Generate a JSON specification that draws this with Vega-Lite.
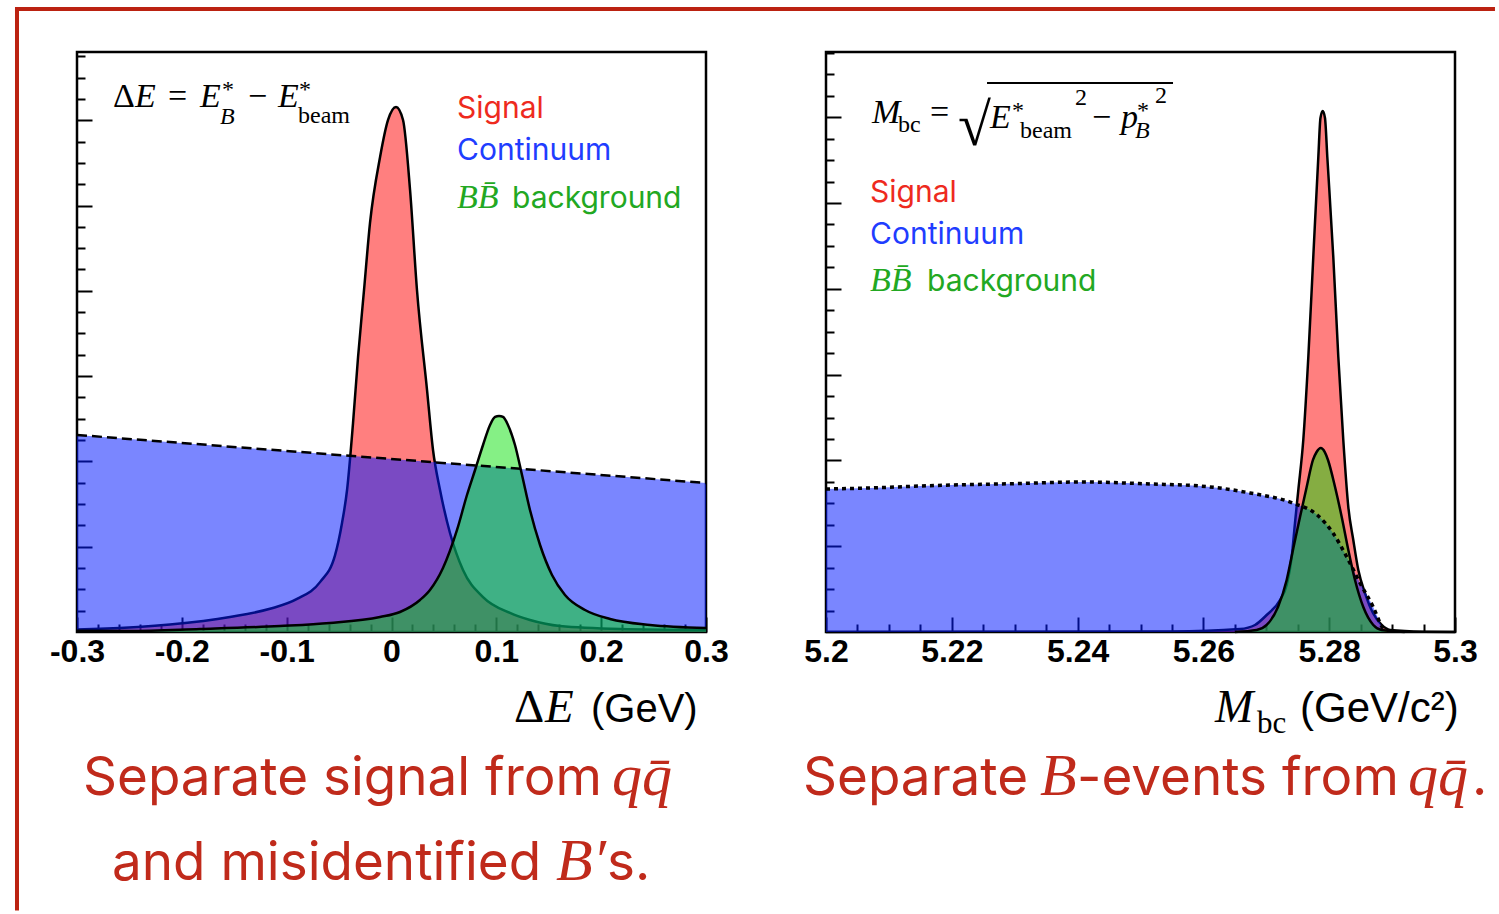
{
  "$schema": "https://vega.github.io/schema/vega-lite/v6.json",
  "background": "white",
  "padding": {"left": 11, "top": 5, "right": 0, "bottom": 0},
  "autosize": {"type": "pad"},
  "spacing": 120,
  "bounds": "flush",
  "config": {"view": {"stroke": "black", "strokeWidth": 2.5}},
  "hconcat": [
    {
      "width": 629,
      "height": 580,
      "encoding": {
        "x": {"field": "x", "type": "quantitative", "scale": {"domain": [-0.3, 0.3], "nice": false, "zero": false},
          "axis": {"orient": "bottom", "title": null, "grid": false, "domain": false,
            "values": [-0.3,-0.28,-0.26,-0.24,-0.22,-0.2,-0.18,-0.16,-0.14,-0.12,-0.1,-0.08,-0.06,-0.04,-0.02,0,0.02,0.04,0.06,0.08,0.1,0.12,0.14,0.16,0.18,0.2,0.22,0.24,0.26,0.28,0.3],
            "tickSize": {"condition": {"test": "abs(datum.value*10-round(datum.value*10))<0.001", "value": -15}, "value": -8},
            "tickWidth": 2, "tickColor": "black",
            "labelExpr": "abs(datum.value*10-round(datum.value*10))<0.001 ? (abs(datum.value)<0.001 ? '0' : (datum.value<0 ? '-'+format(-datum.value,'.1f') : format(datum.value,'.1f'))) : ''",
            "labelFont": "Liberation Sans", "labelFontWeight": "bold", "labelFontSize": 32, "labelColor": "black",
            "labelPadding": 19, "labelOverlap": false, "labelFlush": false, "labelBound": false}},
        "y": {"field": "y", "type": "quantitative", "scale": {"domain": [0, 100], "nice": false, "zero": false},
          "axis": {"orient": "left", "title": null, "grid": false, "domain": false, "labels": false,
            "values": [3.677,7.353,11.03,14.707,18.383,22.06,25.737,29.413,33.09,36.767,40.443,44.12,47.797,51.473,55.15,58.827,62.503,66.18,69.857,73.533,77.21,80.887,84.563,88.24,91.917,95.593,99.27],
            "tickSize": {"condition": {"test": "abs(datum.value/14.707-round(datum.value/14.707))<0.02", "value": -15}, "value": -8},
            "tickWidth": 2, "tickColor": "black"}}
      },
      "layer": [
        {
          "data": {"values": [
            {"x": -0.3, "y": 0.43}, {"x": -0.2781, "y": 0.55}, {"x": -0.2113, "y": 1.3}, {"x": -0.1541, "y": 2.6},
            {"x": -0.1159, "y": 4.0}, {"x": -0.0901, "y": 5.7}, {"x": -0.0682, "y": 8.6}, {"x": -0.0539, "y": 13.2},
            {"x": -0.0472, "y": 18.79}, {"x": -0.0424, "y": 24.48}, {"x": -0.0367, "y": 36.03}, {"x": -0.0319, "y": 47.41},
            {"x": -0.0262, "y": 58.97}, {"x": -0.0205, "y": 70.52}, {"x": -0.0109, "y": 81.9}, {"x": -0.0033, "y": 88.28},
            {"x": 0.0043, "y": 90.52}, {"x": 0.011, "y": 88.28}, {"x": 0.0177, "y": 76.21}, {"x": 0.0243, "y": 58.97},
            {"x": 0.0339, "y": 41.72}, {"x": 0.0396, "y": 31.38}, {"x": 0.0463, "y": 24.48}, {"x": 0.0558, "y": 17.07},
            {"x": 0.0682, "y": 10.69}, {"x": 0.0873, "y": 6.03}, {"x": 0.113, "y": 3.28}, {"x": 0.1321, "y": 2.07},
            {"x": 0.1607, "y": 1.03}, {"x": 0.218, "y": 0.52}, {"x": 0.3, "y": 0.34}
          ]},
          "layer": [
            {"mark": {"type": "area", "color": "#ff0000", "opacity": 0.5, "interpolate": "monotone"}},
            {"mark": {"type": "line", "color": "black", "strokeWidth": 2.5, "interpolate": "monotone"}}
          ]
        },
        {
          "data": {"values": [{"x": -0.3, "y": 33.97}, {"x": 0.3, "y": 25.69}]},
          "mark": {"type": "area", "color": "#041bff", "opacity": 0.53}
        },
        {
          "data": {"values": [
            {"x": -0.3, "y": 0.2}, {"x": -0.2494, "y": 0.17}, {"x": -0.1827, "y": 0.52}, {"x": -0.1064, "y": 1.03},
            {"x": -0.0587, "y": 1.55}, {"x": -0.011, "y": 2.59}, {"x": 0.0081, "y": 3.45}, {"x": 0.0272, "y": 5.52},
            {"x": 0.0367, "y": 7.24}, {"x": 0.0491, "y": 11.03}, {"x": 0.0625, "y": 17.59}, {"x": 0.072, "y": 23.62},
            {"x": 0.0797, "y": 27.93}, {"x": 0.0873, "y": 32.24}, {"x": 0.094, "y": 35.69}, {"x": 0.0988, "y": 37.07},
            {"x": 0.1026, "y": 37.24}, {"x": 0.1064, "y": 37.07}, {"x": 0.1111, "y": 35.69}, {"x": 0.1178, "y": 32.24},
            {"x": 0.1245, "y": 27.07}, {"x": 0.1321, "y": 21.03}, {"x": 0.1417, "y": 15.0}, {"x": 0.1531, "y": 9.83},
            {"x": 0.1655, "y": 6.38}, {"x": 0.1846, "y": 3.79}, {"x": 0.2085, "y": 2.24}, {"x": 0.2466, "y": 1.21},
            {"x": 0.3, "y": 0.69}
          ]},
          "layer": [
            {"mark": {"type": "area", "color": "#00e000", "opacity": 0.48, "interpolate": "monotone"}},
            {"mark": {"type": "line", "color": "black", "strokeWidth": 2.5, "interpolate": "monotone"}}
          ]
        },
        {
          "data": {"values": [{"x": -0.3, "y": 33.97}, {"x": 0.3, "y": 25.69}]},
          "mark": {"type": "line", "color": "black", "strokeWidth": 2.5, "strokeDash": [10, 5]}
        },
        {
          "data": {"values": [{"x": -0.26566, "y": 90.52, "t": "Δ"}, {"x": -0.2132, "y": 90.52, "t": "="}, {"x": -0.13688, "y": 90.52, "t": "−"}]},
          "mark": {"type": "text", "font": "Liberation Serif", "fontSize": 34, "align": "left", "baseline": "alphabetic", "color": "black"},
          "encoding": {"text": {"field": "t"}}
        },
        {
          "data": {"values": [{"x": -0.24467, "y": 90.52, "t": "E"}, {"x": -0.18267, "y": 90.52, "t": "E"}, {"x": -0.10826, "y": 90.52, "t": "E"}]},
          "mark": {"type": "text", "font": "Liberation Serif", "fontStyle": "italic", "fontSize": 34, "align": "left", "baseline": "alphabetic", "color": "black"},
          "encoding": {"text": {"field": "t"}}
        },
        {
          "data": {"values": [{"x": -0.16359, "y": 87.59, "t": "B"}]},
          "mark": {"type": "text", "font": "Liberation Serif", "fontStyle": "italic", "fontSize": 24, "align": "left", "baseline": "alphabetic", "color": "black"},
          "encoding": {"text": {"field": "t"}}
        },
        {
          "data": {"values": [{"x": -0.16168, "y": 92.24, "t": "*"}, {"x": -0.08823, "y": 92.24, "t": "*"}, {"x": -0.08919, "y": 87.76, "t": "beam"}]},
          "mark": {"type": "text", "font": "Liberation Serif", "fontSize": 24, "align": "left", "baseline": "alphabetic", "color": "black"},
          "encoding": {"text": {"field": "t"}}
        },
        {
          "data": {"values": [{"x": 0.06248, "y": 88.62, "t": "Signal"}]},
          "mark": {"type": "text", "font": "Inter", "fontSize": 30, "align": "left", "baseline": "alphabetic", "color": "#ee2a1e"},
          "encoding": {"text": {"field": "t"}}
        },
        {
          "data": {"values": [{"x": 0.06248, "y": 81.38, "t": "Continuum"}]},
          "mark": {"type": "text", "font": "Inter", "fontSize": 30, "align": "left", "baseline": "alphabetic", "color": "#1f3dff"},
          "encoding": {"text": {"field": "t"}}
        },
        {
          "data": {"values": [{"x": 0.11495, "y": 73.1, "t": "background"}]},
          "mark": {"type": "text", "font": "Inter", "fontSize": 30, "align": "left", "baseline": "alphabetic", "color": "#22a822"},
          "encoding": {"text": {"field": "t"}}
        },
        {
          "data": {"values": [{"x": 0.06248, "y": 73.1, "t": "BB̄"}]},
          "mark": {"type": "text", "font": "Liberation Serif", "fontStyle": "italic", "fontSize": 34, "align": "left", "baseline": "alphabetic", "color": "#22a822"},
          "encoding": {"text": {"field": "t"}}
        },
        {
          "data": {"values": [{"x": 0.11686, "y": -15.52, "t": "Δ"}]},
          "mark": {"type": "text", "font": "Liberation Serif", "fontSize": 47, "align": "left", "baseline": "alphabetic", "color": "black"},
          "encoding": {"text": {"field": "t"}}
        },
        {
          "data": {"values": [{"x": 0.14643, "y": -15.52, "t": "E"}]},
          "mark": {"type": "text", "font": "Liberation Serif", "fontStyle": "italic", "fontSize": 47, "align": "left", "baseline": "alphabetic", "color": "black"},
          "encoding": {"text": {"field": "t"}}
        },
        {
          "data": {"values": [{"x": 0.19031, "y": -15.52, "t": "(GeV)"}]},
          "mark": {"type": "text", "font": "Liberation Sans", "fontSize": 40, "align": "left", "baseline": "alphabetic", "color": "black"},
          "encoding": {"text": {"field": "t"}}
        },
        {
          "data": {"values": [{"x": -0.29428, "y": -28.1, "t": "Separate signal from"}, {"x": -0.26661, "y": -42.76, "t": "and misidentified"}, {"x": 0.20557, "y": -42.76, "t": "s."}]},
          "mark": {"type": "text", "font": "Inter", "fontSize": 53, "align": "left", "baseline": "alphabetic", "color": "#c02a1b"},
          "encoding": {"text": {"field": "t"}}
        },
        {
          "data": {"values": [{"x": 0.21034, "y": -28.1, "t": "qq̄"}, {"x": 0.15692, "y": -42.76, "t": "B′"}]},
          "mark": {"type": "text", "font": "Liberation Serif", "fontStyle": "italic", "fontSize": 60, "align": "left", "baseline": "alphabetic", "color": "#c02a1b"},
          "encoding": {"text": {"field": "t"}}
        },
        {
          "data": {"values": [{"x": -0.35724, "y": 107.41, "x2": -0.35724, "y2": -48.0}, {"x": -0.35915, "y": 107.41, "x2": 1.0526, "y2": 107.41}]},
          "mark": {"type": "rule", "color": "#bb2211", "strokeWidth": 4},
          "encoding": {"x2": {"field": "x2"}, "y2": {"field": "y2"}}
        }
      ]
    },
    {
      "width": 629,
      "height": 580,
      "encoding": {
        "x": {"field": "x", "type": "quantitative", "scale": {"domain": [5.2, 5.3], "nice": false, "zero": false},
          "axis": {"orient": "bottom", "title": null, "grid": false, "domain": false,
            "values": [5.2,5.205,5.21,5.215,5.22,5.225,5.23,5.235,5.24,5.245,5.25,5.255,5.26,5.265,5.27,5.275,5.28,5.285,5.29,5.295,5.3],
            "tickSize": {"condition": {"test": "abs(datum.value*50-round(datum.value*50))<0.001", "value": -15}, "value": -8},
            "tickWidth": 2, "tickColor": "black",
            "labelExpr": "abs(datum.value*50-round(datum.value*50))<0.001 ? format(datum.value,'.2~f') : ''",
            "labelFont": "Liberation Sans", "labelFontWeight": "bold", "labelFontSize": 32, "labelColor": "black",
            "labelPadding": 19, "labelOverlap": false, "labelFlush": false, "labelBound": false}},
        "y": {"field": "y", "type": "quantitative", "scale": {"domain": [0, 100], "nice": false, "zero": false},
          "axis": {"orient": "left", "title": null, "grid": false, "domain": false, "labels": false,
            "values": [3.698,7.396,11.094,14.792,18.49,22.188,25.886,29.584,33.282,36.98,40.678,44.376,48.074,51.772,55.47,59.168,62.866,66.564,70.262,73.96,77.658,81.356,85.054,88.752,92.45,96.148,99.846],
            "tickSize": {"condition": {"test": "abs(datum.value/14.792-round(datum.value/14.792))<0.02", "value": -15}, "value": -8},
            "tickWidth": 2, "tickColor": "black"}}
      },
      "layer": [
        {
          "data": {"values": [
            {"x": 5.2, "y": 0}, {"x": 5.255, "y": 0.1}, {"x": 5.26582, "y": 0.52}, {"x": 5.2682, "y": 1.21}, {"x": 5.27006, "y": 2.93},
            {"x": 5.27218, "y": 5.52}, {"x": 5.27324, "y": 8.1}, {"x": 5.27404, "y": 12.93}, {"x": 5.27456, "y": 18.79},
            {"x": 5.27509, "y": 24.48}, {"x": 5.27588, "y": 33.1}, {"x": 5.27668, "y": 47.41}, {"x": 5.27747, "y": 64.66},
            {"x": 5.27827, "y": 81.9}, {"x": 5.27861, "y": 88.62}, {"x": 5.27897, "y": 89.83}, {"x": 5.27933, "y": 88.62},
            {"x": 5.2797, "y": 81.9}, {"x": 5.28065, "y": 64.66}, {"x": 5.28145, "y": 47.41}, {"x": 5.28224, "y": 33.1},
            {"x": 5.28304, "y": 21.55}, {"x": 5.28383, "y": 15.86}, {"x": 5.28463, "y": 10.69}, {"x": 5.28569, "y": 6.72},
            {"x": 5.28696, "y": 3.28}, {"x": 5.28835, "y": 1.21}, {"x": 5.28967, "y": 0.34}, {"x": 5.295, "y": 0.05}, {"x": 5.3, "y": 0}
          ]},
          "layer": [
            {"mark": {"type": "area", "color": "#ff0000", "opacity": 0.5, "interpolate": "monotone"}},
            {"mark": {"type": "line", "color": "black", "strokeWidth": 2.5, "interpolate": "monotone"}}
          ]
        },
        {
          "data": {"values": [
            {"x": 5.2, "y": 24.66}, {"x": 5.207, "y": 24.83}, {"x": 5.215, "y": 25.17}, {"x": 5.2197, "y": 25.34},
            {"x": 5.2277, "y": 25.52}, {"x": 5.241, "y": 25.86}, {"x": 5.2515, "y": 25.52}, {"x": 5.2595, "y": 25.17},
            {"x": 5.2674, "y": 23.97}, {"x": 5.2742, "y": 22.24}, {"x": 5.2781, "y": 20.17}, {"x": 5.2806, "y": 17.07},
            {"x": 5.2828, "y": 12.93}, {"x": 5.2849, "y": 8.45}, {"x": 5.287, "y": 4.31}, {"x": 5.2884, "y": 0.86},
            {"x": 5.2889, "y": 0}
          ]},
          "layer": [
            {"mark": {"type": "area", "color": "#041bff", "opacity": 0.53, "interpolate": "monotone"}}
          ]
        },
        {
          "data": {"values": [
            {"x": 5.265, "y": 0}, {"x": 5.26847, "y": 0.34}, {"x": 5.27006, "y": 1.21}, {"x": 5.27186, "y": 4.31},
            {"x": 5.27324, "y": 8.97}, {"x": 5.27424, "y": 14.14}, {"x": 5.27536, "y": 19.83}, {"x": 5.27642, "y": 25.0},
            {"x": 5.27742, "y": 29.66}, {"x": 5.278, "y": 31.03}, {"x": 5.27865, "y": 31.72}, {"x": 5.2793, "y": 31.03},
            {"x": 5.27981, "y": 29.66}, {"x": 5.28093, "y": 25.0}, {"x": 5.28199, "y": 19.83}, {"x": 5.28304, "y": 14.14},
            {"x": 5.2841, "y": 8.97}, {"x": 5.28542, "y": 4.31}, {"x": 5.28701, "y": 1.21}, {"x": 5.28835, "y": 0.34},
            {"x": 5.292, "y": 0}
          ]},
          "layer": [
            {"mark": {"type": "area", "color": "#00e000", "opacity": 0.48, "interpolate": "monotone"}},
            {"mark": {"type": "line", "color": "black", "strokeWidth": 2.5, "interpolate": "monotone"}}
          ]
        },
        {
          "data": {"values": [
            {"x": 5.2, "y": 24.66}, {"x": 5.207, "y": 24.83}, {"x": 5.215, "y": 25.17}, {"x": 5.2197, "y": 25.34},
            {"x": 5.2277, "y": 25.52}, {"x": 5.241, "y": 25.86}, {"x": 5.2515, "y": 25.52}, {"x": 5.2595, "y": 25.17},
            {"x": 5.2674, "y": 23.97}, {"x": 5.2742, "y": 22.24}, {"x": 5.2781, "y": 20.17}, {"x": 5.2806, "y": 17.07},
            {"x": 5.2828, "y": 12.93}, {"x": 5.2849, "y": 8.45}, {"x": 5.287, "y": 4.31}, {"x": 5.2884, "y": 0.86},
            {"x": 5.2889, "y": 0}
          ]},
          "mark": {"type": "line", "color": "black", "strokeWidth": 3.5, "strokeDash": [4, 4], "interpolate": "monotone"}
        },
        {
          "data": {"values": [{"x": 5.207313, "y": 87.76, "t": "M"}, {"x": 5.226073, "y": 86.9, "t": "E"}, {"x": 5.2469, "y": 86.9, "t": "p"}]},
          "mark": {"type": "text", "font": "Liberation Serif", "fontStyle": "italic", "fontSize": 34, "align": "left", "baseline": "alphabetic", "color": "black"},
          "encoding": {"text": {"field": "t"}}
        },
        {
          "data": {"values": [{"x": 5.216534, "y": 87.76, "t": "="}, {"x": 5.242289, "y": 86.9, "t": "−"}]},
          "mark": {"type": "text", "font": "Liberation Serif", "fontSize": 34, "align": "left", "baseline": "alphabetic", "color": "black"},
          "encoding": {"text": {"field": "t"}}
        },
        {
          "data": {"values": [{"x": 5.211447, "y": 86.21, "t": "bc"}, {"x": 5.229571, "y": 88.62, "t": "*"}, {"x": 5.230843, "y": 85.17, "t": "beam"}, {"x": 5.239587, "y": 90.86, "t": "2"}, {"x": 5.249444, "y": 88.62, "t": "*"}, {"x": 5.252305, "y": 91.21, "t": "2"}]},
          "mark": {"type": "text", "font": "Liberation Serif", "fontSize": 24, "align": "left", "baseline": "alphabetic", "color": "black"},
          "encoding": {"text": {"field": "t"}}
        },
        {
          "data": {"values": [{"x": 5.249126, "y": 85.17, "t": "B"}]},
          "mark": {"type": "text", "font": "Liberation Serif", "fontStyle": "italic", "fontSize": 24, "align": "left", "baseline": "alphabetic", "color": "black"},
          "encoding": {"text": {"field": "t"}}
        },
        {
          "data": {"values": [{"x": 5.220986, "y": 83.97, "t": "√"}]},
          "mark": {"type": "text", "font": "Liberation Serif", "fontSize": 60, "align": "left", "baseline": "alphabetic", "color": "black"},
          "encoding": {"text": {"field": "t"}}
        },
        {
          "data": {"values": [{"x": 5.2256, "y": 94.66, "x2": 5.25517, "y2": 94.66}]},
          "mark": {"type": "rule", "color": "black", "strokeWidth": 2},
          "encoding": {"x2": {"field": "x2"}, "y2": {"field": "y2"}}
        },
        {
          "data": {"values": [{"x": 5.206995, "y": 74.14, "t": "Signal"}]},
          "mark": {"type": "text", "font": "Inter", "fontSize": 30, "align": "left", "baseline": "alphabetic", "color": "#ee2a1e"},
          "encoding": {"text": {"field": "t"}}
        },
        {
          "data": {"values": [{"x": 5.206995, "y": 66.9, "t": "Continuum"}]},
          "mark": {"type": "text", "font": "Inter", "fontSize": 30, "align": "left", "baseline": "alphabetic", "color": "#1f3dff"},
          "encoding": {"text": {"field": "t"}}
        },
        {
          "data": {"values": [{"x": 5.216057, "y": 58.79, "t": "background"}]},
          "mark": {"type": "text", "font": "Inter", "fontSize": 30, "align": "left", "baseline": "alphabetic", "color": "#22a822"},
          "encoding": {"text": {"field": "t"}}
        },
        {
          "data": {"values": [{"x": 5.206995, "y": 58.79, "t": "BB̄"}]},
          "mark": {"type": "text", "font": "Liberation Serif", "fontStyle": "italic", "fontSize": 34, "align": "left", "baseline": "alphabetic", "color": "#22a822"},
          "encoding": {"text": {"field": "t"}}
        },
        {
          "data": {"values": [{"x": 5.261844, "y": -15.52, "t": "M"}]},
          "mark": {"type": "text", "font": "Liberation Serif", "fontStyle": "italic", "fontSize": 46, "align": "left", "baseline": "alphabetic", "color": "black"},
          "encoding": {"text": {"field": "t"}}
        },
        {
          "data": {"values": [{"x": 5.268521, "y": -17.41, "t": "bc"}]},
          "mark": {"type": "text", "font": "Liberation Serif", "fontSize": 31, "align": "left", "baseline": "alphabetic", "color": "black"},
          "encoding": {"text": {"field": "t"}}
        },
        {
          "data": {"values": [{"x": 5.275358, "y": -15.52, "t": "(GeV/c²)"}]},
          "mark": {"type": "text", "font": "Liberation Sans", "fontSize": 42, "align": "left", "baseline": "alphabetic", "color": "black"},
          "encoding": {"text": {"field": "t"}}
        },
        {
          "data": {"values": [{"x": 5.196343, "y": -28.1, "t": "Separate"}, {"x": 5.239905, "y": -28.1, "t": "-events from"}, {"x": 5.302703, "y": -28.1, "t": "."}]},
          "mark": {"type": "text", "font": "Inter", "fontSize": 53, "align": "left", "baseline": "alphabetic", "color": "#c02a1b"},
          "encoding": {"text": {"field": "t"}}
        },
        {
          "data": {"values": [{"x": 5.234022, "y": -28.1, "t": "B"}, {"x": 5.292528, "y": -28.1, "t": "qq̄"}]},
          "mark": {"type": "text", "font": "Liberation Serif", "fontStyle": "italic", "fontSize": 60, "align": "left", "baseline": "alphabetic", "color": "#c02a1b"},
          "encoding": {"text": {"field": "t"}}
        }
      ]
    }
  ]
}
